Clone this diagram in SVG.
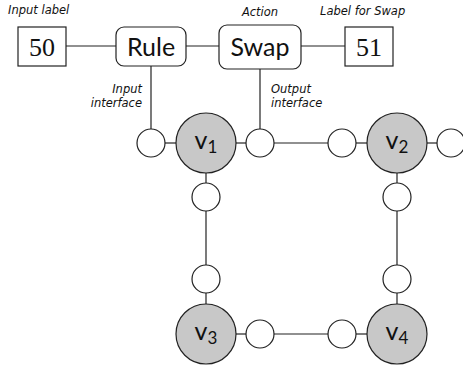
<svg xmlns="http://www.w3.org/2000/svg" width="463" height="369" viewBox="0 0 463 369">
  <style>
    .edge { stroke: #222; stroke-width: 1.2; fill: none; }
    .box { fill: #fff; stroke: #222; stroke-width: 1.2; }
    .port { fill: #fff; stroke: #222; stroke-width: 1.2; }
    .vert { fill: #c8c8c8; stroke: #222; stroke-width: 1.2; }
    .num { font-family: "Liberation Serif", serif; font-size: 26px; fill: #111; text-anchor: middle; }
    .act { font-family: "Lato", "Liberation Sans", sans-serif; font-size: 25px; fill: #111; text-anchor: middle; }
    .note { font-family: "DejaVu Sans", "Liberation Sans", sans-serif; font-style: italic; font-size: 11.5px; fill: #111; }
    .vl { font-family: "Lato", "Liberation Sans", sans-serif; font-size: 25px; fill: #111; text-anchor: middle; }
  </style>
  <rect width="463" height="369" fill="#fff"/>

  <!-- connectors -->
  <g id="connectors">
    <line class="edge" x1="66" y1="46" x2="116" y2="46"/>
    <line class="edge" x1="186" y1="46" x2="219" y2="46"/>
    <line class="edge" x1="301" y1="46" x2="345" y2="46"/>
    <line class="edge" x1="151" y1="66" x2="151" y2="129"/>
    <line class="edge" x1="260" y1="69" x2="260" y2="129"/>
    <!-- top row -->
    <line class="edge" x1="165" y1="143" x2="176" y2="143"/>
    <line class="edge" x1="236" y1="143" x2="246" y2="143"/>
    <line class="edge" x1="274" y1="143" x2="328" y2="143"/>
    <line class="edge" x1="356" y1="143" x2="367" y2="143"/>
    <line class="edge" x1="427" y1="143" x2="437" y2="143"/>
    <!-- left column -->
    <line class="edge" x1="206" y1="173" x2="206" y2="183"/>
    <line class="edge" x1="206" y1="211" x2="206" y2="265"/>
    <line class="edge" x1="206" y1="293" x2="206" y2="304"/>
    <!-- right column -->
    <line class="edge" x1="397" y1="173" x2="397" y2="183"/>
    <line class="edge" x1="397" y1="211" x2="397" y2="265"/>
    <line class="edge" x1="397" y1="293" x2="397" y2="304"/>
    <!-- bottom row -->
    <line class="edge" x1="236" y1="334" x2="246" y2="334"/>
    <line class="edge" x1="274" y1="334" x2="328" y2="334"/>
    <line class="edge" x1="356" y1="334" x2="367" y2="334"/>
  </g>

  <!-- rule header -->
  <g id="label-50">
    <rect class="box" x="18" y="27" width="48" height="39"/>
    <text class="num" x="42" y="56">50</text>
  </g>
  <g id="rule">
    <rect class="box" x="116" y="27" width="70" height="39" rx="8"/>
    <text class="act" x="151" y="56">Rule</text>
  </g>
  <g id="swap">
    <rect class="box" x="219" y="25" width="82" height="44" rx="8"/>
    <text class="act" x="260" y="56">Swap</text>
  </g>
  <g id="label-51">
    <rect class="box" x="345" y="27" width="48" height="39"/>
    <text class="num" x="369" y="56">51</text>
  </g>

  <!-- annotations -->
  <g id="notes">
    <text class="note" x="8" y="14">Input label</text>
    <text class="note" x="260" y="16" text-anchor="middle">Action</text>
    <text class="note" x="320" y="15">Label for Swap</text>
    <text class="note" x="142" y="92.5" text-anchor="end">Input</text>
    <text class="note" x="142" y="106.5" text-anchor="end">interface</text>
    <text class="note" x="271" y="92.5">Output</text>
    <text class="note" x="271" y="106.5">interface</text>
  </g>

  <!-- interface ports -->
  <g id="ports">
    <circle class="port" cx="151" cy="143" r="14"/>
    <circle class="port" cx="260" cy="143" r="14"/>
    <circle class="port" cx="342" cy="143" r="14"/>
    <circle class="port" cx="451" cy="143" r="14"/>
    <circle class="port" cx="206" cy="197" r="14"/>
    <circle class="port" cx="206" cy="279" r="14"/>
    <circle class="port" cx="397" cy="197" r="14"/>
    <circle class="port" cx="397" cy="279" r="14"/>
    <circle class="port" cx="260" cy="334" r="14"/>
    <circle class="port" cx="342" cy="334" r="14"/>
  </g>

  <!-- vertices -->
  <g id="v1">
    <circle class="vert" cx="206" cy="143" r="30"/>
    <text class="vl" x="206" y="149">v<tspan font-size="17" dy="4">1</tspan></text>
  </g>
  <g id="v2">
    <circle class="vert" cx="397" cy="143" r="30"/>
    <text class="vl" x="397" y="149">v<tspan font-size="17" dy="4">2</tspan></text>
  </g>
  <g id="v3">
    <circle class="vert" cx="206" cy="334" r="30"/>
    <text class="vl" x="206" y="340">v<tspan font-size="17" dy="4">3</tspan></text>
  </g>
  <g id="v4">
    <circle class="vert" cx="397" cy="334" r="30"/>
    <text class="vl" x="397" y="340">v<tspan font-size="17" dy="4">4</tspan></text>
  </g>
</svg>
